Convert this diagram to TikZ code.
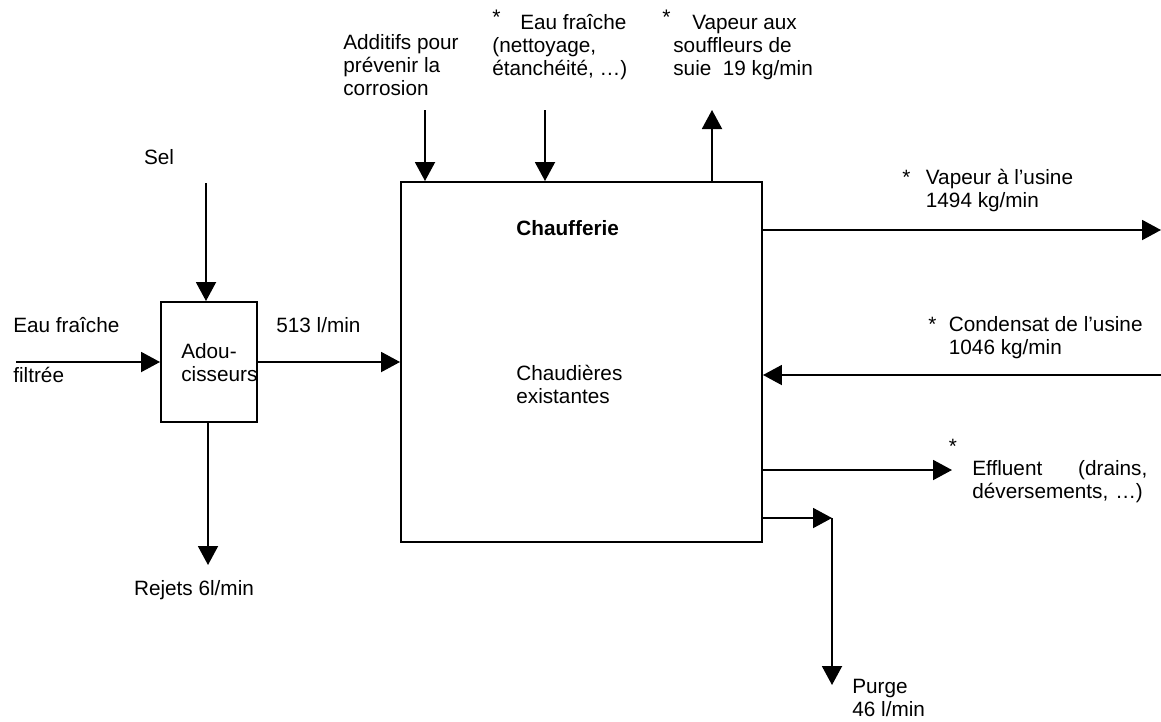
\documentclass[tikz,border=0pt]{standalone}
\usepackage{fontspec}
\setmainfont{Liberation Sans}
\usetikzlibrary{arrows.meta, positioning, calc}

\begin{document}
\begin{tikzpicture}[>={Triangle[length=3.8mm, width=4mm]},
  flow/.style={line width=1.1pt, ->},
  unit/.style={draw, line width=1.1pt, inner sep=0pt},
  lbl/.style={font=\fontsize{11.8}{13.1}\selectfont, inner sep=0pt}]

\useasboundingbox (0,0) rectangle (23.22,14.42);

% Units
\node[unit, minimum width=1.92cm, minimum height=2.4cm] (soft) at (4.18,7.18) {};
\node[unit, minimum width=7.22cm, minimum height=7.2cm] (boiler) at (11.63,7.18) {};
\node[lbl, align=left, anchor=west] (softtxt) at (3.62,7.17) {Adou-\\cisseurs};
\node[lbl, anchor=west, font=\fontsize{11.8}{13.1}\selectfont\bfseries] (boilname) at (10.32,9.86) {Chaufferie};
\node[lbl, align=left, anchor=west] (boiltxt) at (10.32,6.74) {Chaudières\\existantes};

% Free ends
\coordinate (inlet) at (0.32,7.18);
\coordinate (salt) at (4.12,10.76);
\coordinate (reject) at (4.16,3.12);
\coordinate (addin) at (8.5,12.22);
\coordinate (freshin) at (10.9,12.22);
\coordinate (sootout) at (14.24,12.22);
\coordinate (steamout) at (23.22,9.82);
\coordinate (condin) at (23.22,6.92);
\coordinate (effout) at (19.04,5.02);
\coordinate (purgecorner) at (16.64,4.06);
\coordinate (purgeout) at (16.64,0.72);

% Connectors
\draw[flow] (inlet) -- (soft.west);
\draw[flow] (salt) -- (salt |- soft.north);
\draw[flow] (soft.south -| reject) -- (reject);
\draw[flow] (soft.east) -- (boiler.west);
\draw[flow] (addin) -- (addin |- boiler.north);
\draw[flow] (freshin) -- (freshin |- boiler.north);
\draw[flow] (sootout |- boiler.north) -- (sootout);
\draw[flow] (steamout -| boiler.east) -- (steamout);
\draw[flow] (condin) -- (condin -| boiler.east);
\draw[flow] (effout -| boiler.east) -- (effout);
\draw[flow] (purgecorner -| boiler.east) -- (purgecorner);
\draw[flow] (purgecorner) -- (purgeout);

% Labels
\node[lbl, anchor=west] (inname) at (0.26,7.92) {Eau fraîche};
\node[lbl, anchor=west] (inname2) at (0.26,6.92) {filtrée};
\node[lbl, anchor=west] (softflow) at (5.52,7.92) {513 l/min};
\node[lbl] (saltname) at (3.18,11.28) {Sel};
\node[lbl] (rejname) at (3.88,2.62) {Rejets 6l/min};
\node[lbl, align=left, anchor=west] (addname) at (6.86,13.12)
  {Additifs pour\\prévenir la\\corrosion};
\node[lbl, align=left, anchor=west] (freshname) at (9.84,13.52)
  {\makebox[0.56cm][l]{\raisebox{2.5pt}{\large *}}Eau fraîche\\(nettoyage,\\étanchéité, …)};
\node[lbl, align=left, anchor=west] (sootname) at (13.46,13.52)
  {\hspace*{-0.22cm}\makebox[0.6cm][l]{\raisebox{2.5pt}{\large *}}Vapeur aux\\souffleurs de\\suie~~19 kg/min};
\node[lbl, anchor=west] (steamname) at (18.04,10.59)
  {\begin{tabular}{@{}l@{\hspace{0.31cm}}l@{}}* & Vapeur à l’usine\\ & 1494 kg/min\end{tabular}};
\node[lbl, anchor=west] (condname) at (18.56,7.65)
  {\begin{tabular}{@{}l@{\hspace{0.25cm}}l@{}}* & Condensat de l’usine\\ & 1046 kg/min\end{tabular}};
\node[lbl] (effstar) at (19.06,5.5) {*};
\node[lbl, align=left, anchor=west, text width=3.5cm] (effname) at (19.44,4.79)
  {Effluent\hfill(drains,\\déversements, …)};
\node[lbl, align=left, anchor=west] (purgename) at (17.04,0.47) {Purge\\46 l/min};

\end{tikzpicture}
\end{document}
